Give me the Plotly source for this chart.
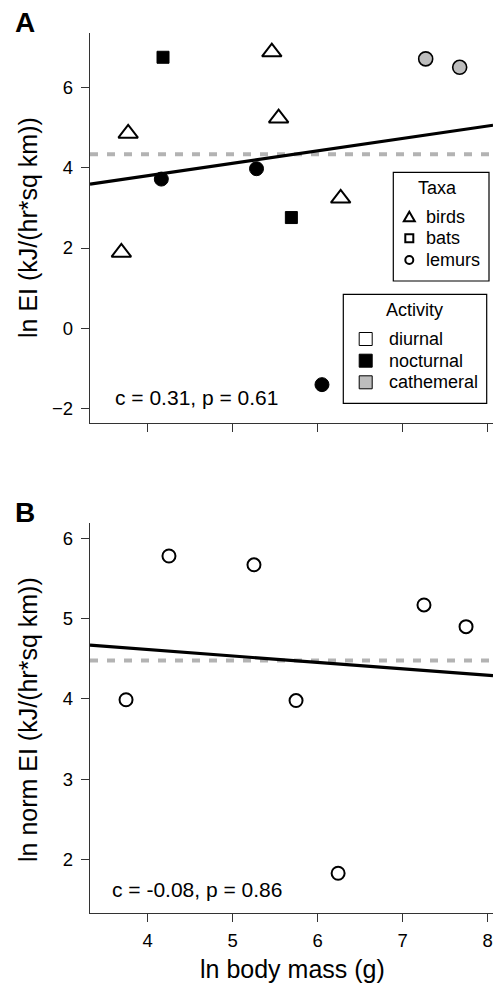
import plotly.graph_objects as go

# ---------------- data ----------------
# Panel A
birds_x = [3.77, 3.69, 5.46, 5.54, 6.27]
birds_y = [4.86, 1.89, 6.89, 5.24, 3.24]
bats_x = [4.18, 5.69]
bats_y = [6.76, 2.76]
lemur_noct_x = [4.16, 5.28, 6.05]
lemur_noct_y = [3.72, 3.98, -1.41]
lemur_cath_x = [7.27, 7.67]
lemur_cath_y = [6.72, 6.51]
fitA = [2.565, 0.31]      # intercept, slope
meanA = 4.34
statA = "c = 0.31, p = 0.61"

# Panel B
normB_x = [3.745, 4.25, 5.25, 5.745, 6.24, 7.25, 7.745]
normB_y = [3.99, 5.78, 5.67, 3.98, 1.83, 5.17, 4.90]
fitB = [4.936, -0.0802]
meanB = 4.48
statB = "c = -0.08, p = 0.86"

x_ticks = [4, 5, 6, 7, 8]
yA_ticks = [-2, 0, 2, 4, 6]
yB_ticks = [2, 3, 4, 5, 6]
xrange_ = [3.321, 8.062]
yA_range = [-2.367, 7.366]
yB_range = [1.335, 6.187]

taxa_labels = ["birds", "bats", "lemurs"]
activity_labels = ["diurnal", "nocturnal", "cathemeral"]
activity_colors = ["white", "black", "#bdbdbd"]

FONT = "Arial, Liberation Sans, sans-serif"
AX = "#333333"

W, H = 493, 986
L, R, T, B = 90, 0, 33, 73
PW, PH = W - L - R, H - T - B


def px(xp):
    return (xp - L) / PW


def py(yp):
    return (H - B - yp) / PH


fig = go.Figure()

# ---------- Panel A ----------
fig.add_trace(go.Scatter(x=xrange_, y=[fitA[0] + fitA[1] * v for v in xrange_],
                         mode="lines", line=dict(color="black", width=3.2),
                         xaxis="x", yaxis="y", showlegend=False, hoverinfo="skip"))
fig.add_trace(go.Scatter(x=birds_x, y=birds_y, mode="markers", xaxis="x", yaxis="y",
                         marker=dict(symbol="triangle-up", size=17, color="white",
                                     line=dict(color="black", width=2)), showlegend=False))
fig.add_trace(go.Scatter(x=bats_x, y=bats_y, mode="markers", xaxis="x", yaxis="y",
                         marker=dict(symbol="square", size=12, color="black",
                                     line=dict(color="black", width=1)), showlegend=False))
fig.add_trace(go.Scatter(x=lemur_noct_x, y=lemur_noct_y, mode="markers", xaxis="x", yaxis="y",
                         marker=dict(symbol="circle", size=14, color="black",
                                     line=dict(color="black", width=1)), showlegend=False))
fig.add_trace(go.Scatter(x=lemur_cath_x, y=lemur_cath_y, mode="markers", xaxis="x", yaxis="y",
                         marker=dict(symbol="circle", size=14, color="#bdbdbd",
                                     line=dict(color="black", width=1.6)), showlegend=False))

# ---------- Panel B ----------
fig.add_trace(go.Scatter(x=xrange_, y=[fitB[0] + fitB[1] * v for v in xrange_],
                         mode="lines", line=dict(color="black", width=3.2),
                         xaxis="x2", yaxis="y2", showlegend=False, hoverinfo="skip"))
fig.add_trace(go.Scatter(x=normB_x, y=normB_y, mode="markers", xaxis="x2", yaxis="y2",
                         marker=dict(symbol="circle-open", size=13, color="black",
                                     line=dict(color="black", width=2)), showlegend=False))

dom_A = [py(423), 1.0]
dom_B = [0.0, py(523.3)]

axis_common = dict(showline=True, linecolor=AX, linewidth=1.3, ticks="outside",
                   ticklen=8, tickwidth=1.3, tickcolor=AX, showgrid=False, zeroline=False,
                   mirror=False, tickfont=dict(family=FONT, size=18.5, color="black"))

fig.update_layout(
    width=W, height=H, margin=dict(l=L, r=R, t=T, b=B),
    paper_bgcolor="white", plot_bgcolor="white",
    font=dict(family=FONT, color="black"),
    xaxis=dict(domain=[0, 1], range=xrange_, tickvals=x_ticks, showticklabels=False,
               anchor="y", **axis_common),
    yaxis=dict(domain=dom_A, range=yA_range, tickvals=yA_ticks, anchor="x",
               ticklabelstandoff=4, **axis_common),
    xaxis2=dict(domain=[0, 1], range=xrange_, tickvals=x_ticks, anchor="y2",
                ticklabelstandoff=3, **axis_common),
    yaxis2=dict(domain=dom_B, range=yB_range, tickvals=yB_ticks, anchor="x2",
                ticklabelstandoff=4, **axis_common),
)

shapes = []
ann = []

# mean (dashed) lines
for mval, yref in [(meanA, "y"), (meanB, "y2")]:
    shapes.append(dict(type="line", xref="x domain" if yref == "y" else "x2 domain",
                       yref=yref, x0=0, x1=1, y0=mval, y1=mval,
                       line=dict(color="#b3b3b3", width=4, dash="8px,9px"), layer="below"))

# panel letters
ann.append(dict(text="<b>A</b>", xref="paper", yref="paper", x=px(25), y=py(22),
                showarrow=False, font=dict(size=28, family=FONT), xanchor="center", yanchor="middle"))
ann.append(dict(text="<b>B</b>", xref="paper", yref="paper", x=px(25), y=py(512),
                showarrow=False, font=dict(size=28, family=FONT), xanchor="center", yanchor="middle"))

# axis titles
ann.append(dict(text="ln EI (kJ/(hr*sq km))", xref="paper", yref="paper", x=px(28), y=py(228),
                textangle=-90, showarrow=False, font=dict(size=25, family=FONT),
                xanchor="center", yanchor="middle"))
ann.append(dict(text="ln norm EI (kJ/(hr*sq km))", xref="paper", yref="paper", x=px(28), y=py(720),
                textangle=-90, showarrow=False, font=dict(size=25, family=FONT),
                xanchor="center", yanchor="middle"))
ann.append(dict(text="ln body mass (g)", xref="paper", yref="paper", x=px(292), y=py(969),
                showarrow=False, font=dict(size=25, family=FONT),
                xanchor="center", yanchor="middle"))

# stats
ann.append(dict(text=statA, xref="paper", yref="paper", x=px(113), y=py(397),
                showarrow=False, font=dict(size=21, family=FONT), xanchor="left", yanchor="middle"))
ann.append(dict(text=statB, xref="paper", yref="paper", x=px(110), y=py(889),
                showarrow=False, font=dict(size=21, family=FONT), xanchor="left", yanchor="middle"))

# ---------- legend: Taxa ----------
shapes.append(dict(type="rect", xref="paper", yref="paper", x0=px(393.3), x1=px(489),
                   y0=py(281), y1=py(172.3), line=dict(color="black", width=1.2), fillcolor="white"))
ann.append(dict(text="Taxa", xref="paper", yref="paper", x=px(437), y=py(188), showarrow=False,
                font=dict(size=18, family=FONT), xanchor="center", yanchor="middle"))
taxa_y = [216.7, 238.3, 260]
sx = 409.3
for lab, yy in zip(taxa_labels, taxa_y):
    ann.append(dict(text=lab, xref="paper", yref="paper", x=px(424), y=py(yy), showarrow=False,
                    font=dict(size=18, family=FONT), xanchor="left", yanchor="middle"))
# triangle
yy = taxa_y[0]
shapes.append(dict(type="path", xref="paper", yref="paper",
                   path=f"M {px(sx-5.5)},{py(yy+4.5)} L {px(sx+5.5)},{py(yy+4.5)} L {px(sx)},{py(yy-5)} Z",
                   line=dict(color="black", width=2), fillcolor="white"))
yy = taxa_y[1]
shapes.append(dict(type="rect", xref="paper", yref="paper", x0=px(sx-4), x1=px(sx+4),
                   y0=py(yy+4), y1=py(yy-4), line=dict(color="black", width=2), fillcolor="white"))
yy = taxa_y[2]
shapes.append(dict(type="circle", xref="paper", yref="paper", x0=px(sx-4), x1=px(sx+4),
                   y0=py(yy+4), y1=py(yy-4), line=dict(color="black", width=2), fillcolor="white"))

# ---------- legend: Activity ----------
shapes.append(dict(type="rect", xref="paper", yref="paper", x0=px(343.3), x1=px(486.7),
                   y0=py(403.3), y1=py(294.3), line=dict(color="black", width=1.2), fillcolor="white"))
ann.append(dict(text="Activity", xref="paper", yref="paper", x=px(414.5), y=py(310), showarrow=False,
                font=dict(size=18, family=FONT), xanchor="center", yanchor="middle"))
act_y = [339, 360.7, 382.3]
ax_ = 365.7
for lab, col, yy in zip(activity_labels, activity_colors, act_y):
    shapes.append(dict(type="rect", xref="paper", yref="paper", x0=px(ax_-6.5), x1=px(ax_+6.5),
                       y0=py(yy+6.5), y1=py(yy-6.5), line=dict(color="black", width=1),
                       fillcolor=col))
    ann.append(dict(text=lab, xref="paper", yref="paper", x=px(387), y=py(yy), showarrow=False,
                    font=dict(size=18, family=FONT), xanchor="left", yanchor="middle"))

fig.update_layout(shapes=shapes, annotations=ann)
fig.write_html("out.html", config={"displayModeBar": False},
               post_script="document.body.style.margin='0';document.body.style.overflow='hidden';")
